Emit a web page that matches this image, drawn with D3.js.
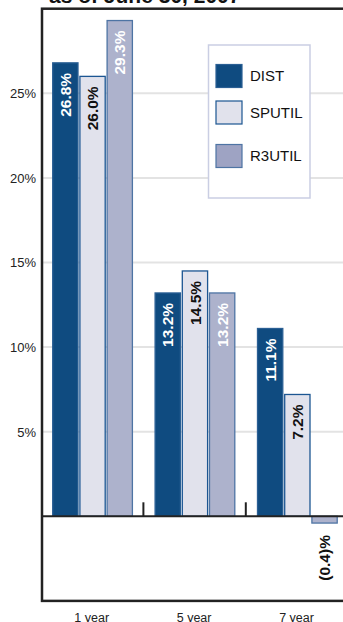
<!DOCTYPE html>
<html>
<head>
<meta charset="utf-8">
<script src="https://cdn.jsdelivr.net/npm/d3@7"></script>
<style>
  html, body { margin: 0; padding: 0; background: #fff; }
  svg { display: block; }
  text { font-family: "Liberation Sans", Arial, Helvetica, sans-serif; }
</style>
</head>
<body>
<svg id="chart" width="343" height="622"></svg>
<script>
// Annualized returns by period, as of June 30, 2007
const periods = ["1 year", "5 year", "7 year"];
const seriesNames = ["DIST", "SPUTIL", "R3UTIL"];
const distValues = [26.8, 13.2, 11.1];
const sputilValues = [26.0, 14.5, 7.2];
const r3utilValues = [29.3, 13.2, -0.4];
const gridTicks = [5, 10, 15, 20, 25];
const titleText = "as of June 30, 2007";

const seriesValues = { DIST: distValues, SPUTIL: sputilValues, R3UTIL: r3utilValues };
const fills = { DIST: "#0f4b80", SPUTIL: "#e1e2ec", R3UTIL: "#adb2cc" };
const strokes = { DIST: "#2a5f94", SPUTIL: "#1c5692", R3UTIL: "#4e74a4" };
const swatchFills = { DIST: "#0f4b80", SPUTIL: "#e1e2ec", R3UTIL: "#9ea3c3" };
const labelColors = { DIST: "#ffffff", SPUTIL: "#111111", R3UTIL: "#ffffff" };

const svg = d3.select("#chart");
const left = 42, frameRight = 349;

const y = d3.scaleLinear().domain([-5, 30]).range([600.9, 8.7]);
const x0 = d3.scaleBand().domain(periods).range([41, 348.2]).padding(0);
const x1 = d3.scaleBand().domain(seriesNames).range([11.7, 91.4]).paddingInner(0.07).paddingOuter(0);

// title (runs off the top edge)
svg.append("text")
  .attr("x", 49).attr("y", 3)
  .attr("font-size", 21).attr("font-weight", "bold").attr("fill", "#111")
  .text(titleText);

// gridlines
svg.append("g").selectAll("line").data(gridTicks).join("line")
  .attr("x1", left).attr("x2", frameRight)
  .attr("y1", d => y(d)).attr("y2", d => y(d))
  .attr("stroke", "#e3e3e3").attr("stroke-width", 2);

// y tick labels
svg.append("g").selectAll("text").data(gridTicks).join("text")
  .attr("x", 36).attr("y", d => y(d)).attr("dy", "0.38em")
  .attr("text-anchor", "end").attr("font-size", 13).attr("fill", "#222")
  .text(d => d + "%");

// bars
const rows = periods.flatMap((p, i) => seriesNames.map(s => ({ period: p, series: s, value: seriesValues[s][i] })));

const groups = svg.append("g");
groups.selectAll("rect").data(rows).join("rect")
  .attr("x", d => x0(d.period) + x1(d.series))
  .attr("width", x1.bandwidth())
  .attr("y", d => y(Math.max(0, d.value)))
  .attr("height", d => Math.abs(y(d.value) - y(0)))
  .attr("fill", d => fills[d.series])
  .attr("stroke", d => strokes[d.series])
  .attr("stroke-width", 1.3);

// value labels, rotated, inside the top of each bar (below the bar when negative)
const fmt = v => v < 0 ? "(" + Math.abs(v).toFixed(1) + ")%" : v.toFixed(1) + "%";
svg.append("g").selectAll("text").data(rows).join("text")
  .attr("transform", d => {
    const cx = x0(d.period) + x1(d.series) + x1.bandwidth() / 2;
    const cy = d.value >= 0 ? y(d.value) + 10 : y(d.value) + 12;
    return `translate(${cx},${cy}) rotate(-90)`;
  })
  .attr("text-anchor", "end")
  .attr("dy", "0.36em")
  .attr("font-size", 15.5).attr("font-weight", "bold")
  .attr("fill", d => d.value >= 0 ? labelColors[d.series] : "#111")
  .text(d => fmt(d.value));

// zero line and category separators
svg.append("line")
  .attr("x1", left).attr("x2", frameRight)
  .attr("y1", y(0)).attr("y2", y(0))
  .attr("stroke", "#222").attr("stroke-width", 2);

const seps = x0.domain().slice(1).map(p => x0(p));
svg.append("g").selectAll("line").data(seps).join("line")
  .attr("x1", d => d).attr("x2", d => d)
  .attr("y1", y(0) - 14).attr("y2", y(0))
  .attr("stroke", "#222").attr("stroke-width", 2);

// plot frame
svg.append("rect")
  .attr("x", left).attr("y", y(30))
  .attr("width", frameRight - left).attr("height", y(-5) - y(30))
  .attr("fill", "none").attr("stroke", "#222").attr("stroke-width", 2.5);

// category labels
svg.append("g").selectAll("text").data(periods).join("text")
  .attr("x", d => x0(d) + x0.bandwidth() / 2 - 0.5).attr("y", 621.5)
  .attr("text-anchor", "middle").attr("font-size", 12.5).attr("fill", "#222")
  .text(d => d);

// legend
const legend = svg.append("g").attr("transform", "translate(208.5,45)");
legend.append("rect")
  .attr("width", 101.5).attr("height", 153)
  .attr("fill", "#fff").attr("stroke", "#cacee3").attr("stroke-width", 1.5);
const legendRowY = [19.5, 56, 99.5];
const items = legend.selectAll("g.item").data(seriesNames).join("g")
  .attr("class", "item")
  .attr("transform", (d, i) => `translate(7.5,${legendRowY[i]})`);
items.append("rect")
  .attr("width", 26).attr("height", 23)
  .attr("fill", d => swatchFills[d])
  .attr("stroke", d => strokes[d]).attr("stroke-width", 1.2);
items.append("text")
  .attr("x", 34).attr("y", 11.5).attr("dy", "0.36em")
  .attr("font-size", 15).attr("fill", "#111")
  .text(d => d);
</script>
</body>
</html>
